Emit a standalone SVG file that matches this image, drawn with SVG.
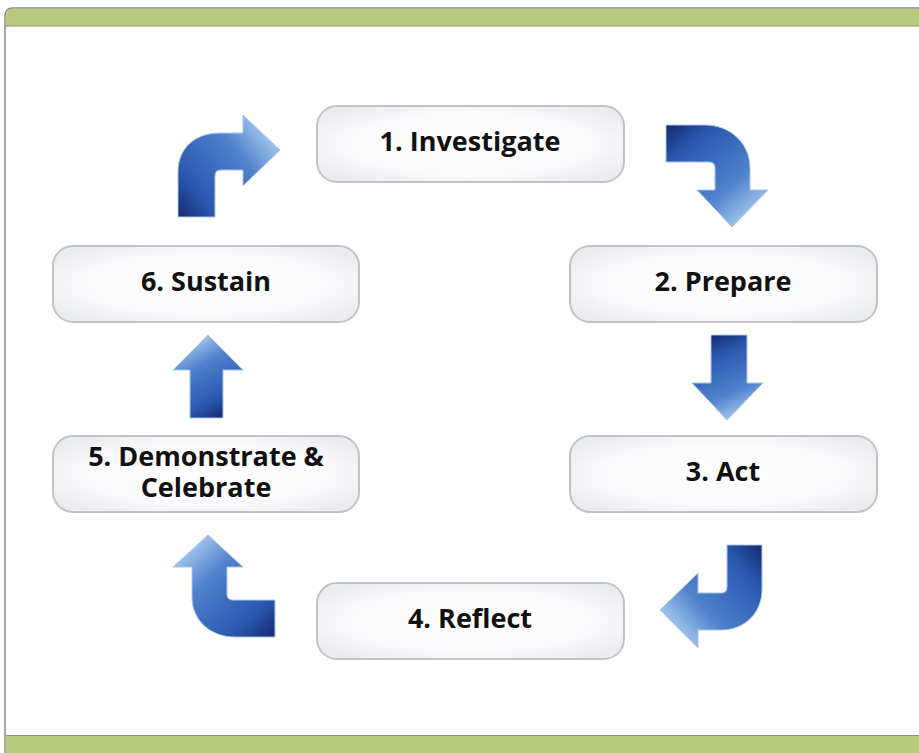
<svg xmlns="http://www.w3.org/2000/svg" width="919" height="753" viewBox="0 0 919 753">
<style>
.box{fill:url(#boxg);stroke:#c3c3c6;stroke-width:2}
.lbl{font-family:"Open Sans","Noto Sans","Liberation Sans",sans-serif;font-weight:bold;font-size:27px;fill:#111;text-anchor:middle}
.arr{stroke:#a9c6ee;stroke-width:1}
</style>
<defs>
<radialGradient id="boxg" cx="0.5" cy="0.5" r="0.6">
<stop offset="0" stop-color="#ffffff"/>
<stop offset="0.7" stop-color="#f9f9fb"/>
<stop offset="1" stop-color="#ebecef"/>
</radialGradient>
<linearGradient id="g1" gradientUnits="userSpaceOnUse" x1="178" y1="217" x2="275" y2="140">
<stop offset="0" stop-color="#142a6e"/><stop offset="0.25" stop-color="#2a58b0"/><stop offset="0.7" stop-color="#4f82cc"/><stop offset="1" stop-color="#a5c8ee"/>
</linearGradient>
<linearGradient id="g2" gradientUnits="userSpaceOnUse" x1="666" y1="125" x2="745" y2="222">
<stop offset="0" stop-color="#142a6e"/><stop offset="0.25" stop-color="#2a58b0"/><stop offset="0.7" stop-color="#4f82cc"/><stop offset="1" stop-color="#a5c8ee"/>
</linearGradient>
<linearGradient id="g3" gradientUnits="userSpaceOnUse" x1="711" y1="335" x2="745" y2="415">
<stop offset="0" stop-color="#142a6e"/><stop offset="0.25" stop-color="#2a58b0"/><stop offset="0.7" stop-color="#4f82cc"/><stop offset="1" stop-color="#a5c8ee"/>
</linearGradient>
<linearGradient id="g4" gradientUnits="userSpaceOnUse" x1="762" y1="545" x2="670" y2="625">
<stop offset="0" stop-color="#142a6e"/><stop offset="0.25" stop-color="#2a58b0"/><stop offset="0.7" stop-color="#4f82cc"/><stop offset="1" stop-color="#a5c8ee"/>
</linearGradient>
<linearGradient id="g5" gradientUnits="userSpaceOnUse" x1="275" y1="637" x2="190" y2="545">
<stop offset="0" stop-color="#142a6e"/><stop offset="0.25" stop-color="#2a58b0"/><stop offset="0.7" stop-color="#4f82cc"/><stop offset="1" stop-color="#a5c8ee"/>
</linearGradient>
<linearGradient id="g6" gradientUnits="userSpaceOnUse" x1="223" y1="418" x2="185" y2="345">
<stop offset="0" stop-color="#142a6e"/><stop offset="0.25" stop-color="#2a58b0"/><stop offset="0.7" stop-color="#4f82cc"/><stop offset="1" stop-color="#a5c8ee"/>
</linearGradient>
</defs>
<g id="frame">
<rect x="0" y="0" width="919" height="753" fill="#ffffff"/>
<path d="M5,753 L5,16 Q5,8 13,8 L930,8 L930,753" fill="#ffffff" stroke="#8a8a8a" stroke-width="1.5"/>
<path d="M5.8,26 L5.8,16 Q5.8,8.8 13,8.8 L930,8.8 L930,26 Z" fill="#b8cb7c"/>
<line x1="5" y1="26" x2="930" y2="26" stroke="#8a8a8a" stroke-width="1"/>
<rect x="5.8" y="736" width="925" height="20" fill="#b8cb7c"/>
<line x1="5" y1="735.5" x2="930" y2="735.5" stroke="#8a8a8a" stroke-width="1"/>
</g>
<g id="connectors">
<path class="arr" fill="url(#g1)" d="M178,217 L178,172 C178,148 195,133 220,133 L243,133 L243,115 L280,150 L243,186 L243,170 L221,170 Q215,170 215,176 L215,217 Z"/>
<path class="arr" fill="url(#g2)" d="M666,125 L705,125 C730,125 750,143 750,168 L750,190 L768,190 L732,227 L697,190 L715,190 L715,168 Q715,162 709,162 L666,162 Z"/>
<path class="arr" fill="url(#g3)" d="M711,335 L747,335 L747,383 L763,383 L727,420 L692,383 L711,383 Z"/>
<path class="arr" fill="url(#g4)" d="M762,545 L762,590 C762,612 745,630 722,630 L698,630 L698,648 L660,610 L698,573 L698,593 L721,593 Q727,593 727,587 L727,545 Z"/>
<path class="arr" fill="url(#g5)" d="M275,637 L235,637 C210,637 192,620 192,597 L192,567 L173,567 L208,535 L243,567 L227,567 L227,594 Q227,600 233,600 L275,600 Z"/>
<path class="arr" fill="url(#g6)" d="M190,418 L223,418 L223,370 L243,370 L208,335 L173,370 L190,370 Z"/>
</g>
<g id="n1"><rect class="box" x="317" y="106" width="307" height="76" rx="20"/><text class="lbl" x="470" y="151">1. Investigate</text></g>
<g id="n2"><rect class="box" x="570" y="246" width="307" height="76" rx="20"/><text class="lbl" x="723" y="291">2. Prepare</text></g>
<g id="n3"><rect class="box" x="570" y="436" width="307" height="76" rx="20"/><text class="lbl" x="723" y="481">3. Act</text></g>
<g id="n4"><rect class="box" x="317" y="583" width="307" height="76" rx="20"/><text class="lbl" x="470" y="628">4. Reflect</text></g>
<g id="n5"><rect class="box" x="53" y="436" width="306" height="76" rx="20"/><text class="lbl" x="206" y="466">5. Demonstrate &amp;<tspan x="206" y="497">Celebrate</tspan></text></g>
<g id="n6"><rect class="box" x="53" y="246" width="306" height="76" rx="20"/><text class="lbl" x="206" y="291">6. Sustain</text></g>
</svg>
